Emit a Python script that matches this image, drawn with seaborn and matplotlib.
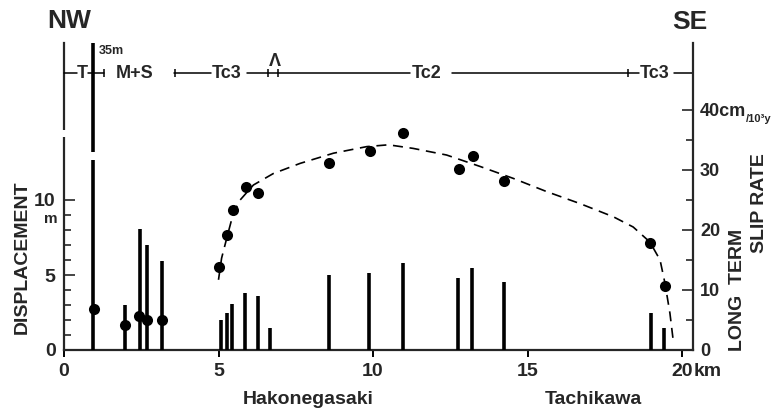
import matplotlib
matplotlib.use("Agg")
import matplotlib.pyplot as plt
import seaborn as sns
import pandas as pd

# ---------------- data ----------------
bar_km = [0.95, 1.97, 2.46, 2.70, 3.16, 5.07, 5.26, 5.43, 5.86, 6.27, 6.67,
          8.59, 9.86, 10.96, 12.74, 13.20, 14.24, 19.00, 19.42]
bar_m = [35, 3.0, 8.1, 7.0, 5.95, 2.0, 2.5, 3.1, 3.8, 3.6, 1.45,
         5.0, 5.15, 5.78, 4.82, 5.44, 4.51, 2.49, 1.49]

slip_km = [0.97, 1.97, 2.44, 2.70, 3.16, 5.00, 5.29, 5.48, 5.88, 6.27,
           8.59, 9.90, 10.96, 12.78, 13.24, 14.24, 18.97, 19.45]
slip_rate = [6.9, 4.2, 5.6, 5.0, 5.0, 13.9, 19.1, 23.3, 27.1, 26.1,
             31.2, 33.2, 36.2, 30.2, 32.3, 28.2, 17.9, 10.7]

curve_km = [5.0, 5.10, 5.29, 5.48, 5.70, 6.13, 6.77, 7.64, 8.72, 9.80, 10.5,
            11.3, 12.38, 13.46, 14.54, 15.62, 16.70, 17.78, 18.42, 18.96,
            19.29, 19.45, 19.61, 19.72]
curve_rate = [11.7, 15.3, 19.1, 22.8, 25.0, 27.5, 29.4, 31.1, 32.8, 33.9, 34.2,
              33.6, 32.5, 30.6, 28.6, 26.4, 24.4, 22.2, 20.5, 18.0,
              15.0, 11.1, 6.1, 1.4]

x_ticks = [0, 5, 10, 15, 20]
x_ticklabels = ["0", "5", "10", "15", "20"]
left_ticks = [0, 5, 10]
left_ticklabels = ["0", "5", "10"]
right_ticks = [0, 10, 20, 30, 40]
right_ticklabels = ["0", "10", "20", "30", "40cm"]

geo_labels = ["T", "M+S", "Tc3", "Tc2", "Tc3"]
geo_label_km = [0.6, 2.3, 5.25, 11.73, 19.1]
geo_segments = [(0, 0.42), (0.78, 1.30), (3.55, 4.75), (5.92, 11.2),
                (12.55, 18.6), (19.75, 20.36)]
geo_marks_km = [1.30, 3.59, 6.6, 6.93, 18.25]

bars = pd.DataFrame({"km": bar_km, "m": bar_m})
slips = pd.DataFrame({"km": slip_km, "rate": slip_rate})
curve = pd.DataFrame({"km": curve_km, "rate": curve_rate})

# ---------------- style ----------------
sns.set_theme(style="ticks")
plt.rcParams["font.family"] = ["Liberation Sans", "DejaVu Sans"]
plt.rcParams["font.weight"] = "bold"

W, H = 775, 409
fig = plt.figure(figsize=(W / 100, H / 100), dpi=100)
fig.patch.set_facecolor("white")


def ftext(px, py, s, **kw):
    kw.setdefault("fontweight", "bold")
    fig.text(px / W, 1 - py / H, s, **kw)


ax = fig.add_axes([64 / W, 59 / H, 629 / W, 307 / H])
ax.set_facecolor("white")
ax.set_xlim(0, 629 / 30.9)
ax.set_ylim(0, 307 / 15)

ax2 = ax.twinx()
ax2.set_ylim(0, 307 / 6)

# bars (displacement)
ax.vlines(bars["km"], 0, bars["m"], color="black", lw=2.6, zorder=3)

# dashed curve and dots (slip rate)
sns.lineplot(data=curve, x="km", y="rate", ax=ax2, sort=False, estimator=None,
             color="black", lw=1.2, linestyle=(0, (6, 4)), zorder=3)
sns.scatterplot(data=slips, x="km", y="rate", ax=ax2, color="black", s=64,
                edgecolor="black", linewidth=0, zorder=4, clip_on=False)

# breaks in left spine and the 35 m bar
ax.plot([0, 0], [(350 - 137) / 15, (350 - 130) / 15], color="white", lw=4,
        clip_on=False, zorder=6, solid_capstyle="butt")
ax.plot([bar_km[0], bar_km[0]], [(350 - 160) / 15, (350 - 152) / 15],
        color="white", lw=4, zorder=6, solid_capstyle="butt")

# geology strip
y_geo = (350 - 73) / 15
for a, b in geo_segments:
    ax.plot([a, b], [y_geo, y_geo], color="black", lw=1.1, clip_on=False, zorder=3)
ax.vlines(geo_marks_km, y_geo - 0.25, y_geo + 0.25, color="black", lw=1.1, zorder=3)
for lab, xk in zip(geo_labels, geo_label_km):
    ax.text(xk, y_geo, lab, ha="center", va="center", fontsize=13,
            fontweight="bold", zorder=5)
ax.text(6.82, (350 - 61) / 15, "Λ", ha="center", va="center", fontsize=13,
        fontweight="bold")

# axes styling
for a_ in (ax, ax2):
    a_.set_xlabel("")
    a_.set_ylabel("")
    a_.spines["top"].set_visible(False)
ax.spines["right"].set_visible(False)
for s in ("left", "bottom"):
    ax2.spines[s].set_visible(False)
for s in ("left", "bottom"):
    ax.spines[s].set_linewidth(1.6)
ax2.spines["right"].set_linewidth(1.6)

ax.set_xticks(x_ticks)
ax.set_xticklabels(x_ticklabels)
ax.tick_params(axis="x", direction="out", length=5, width=1.4, pad=4,
               labelsize=14, color="black")
ax.set_yticks(left_ticks)
ax.set_yticklabels(left_ticklabels)
ax.set_yticks(list(range(0, 11)), minor=True)
ax.tick_params(axis="y", which="major", direction="in", length=8, width=1.2,
               pad=6, labelsize=14)
ax.tick_params(axis="y", which="minor", direction="in", length=5, width=1.2)

ax2.set_yticks(right_ticks)
ax2.set_yticklabels(right_ticklabels)
ax2.set_yticks([5, 15, 25, 35], minor=True)
ax2.tick_params(axis="y", which="major", direction="in", length=8, width=1.2,
                pad=5, labelsize=13)
ax2.tick_params(axis="y", which="minor", direction="in", length=5, width=1.2)
for lab in ax.get_xticklabels() + ax.get_yticklabels() + ax2.get_yticklabels():
    lab.set_fontweight("bold")

# free text
ftext(69, 21, "NW", ha="center", va="center", fontsize=19)
ftext(690, 22, "SE", ha="center", va="center", fontsize=19)
ax.text(1.12, 20.3, "35m", ha="left", va="top", fontsize=9, fontweight="bold")
ftext(22, 257, "DISPLACEMENT", ha="center", va="center", rotation=90, fontsize=14)
ftext(51, 219, "m", ha="center", va="center", fontsize=11)
ftext(738, 290, "LONG  TERM", ha="center", va="center", rotation=90, fontsize=14)
ftext(760, 203, "SLIP RATE", ha="center", va="center", rotation=90, fontsize=14)
ftext(746, 119, "/10³y", ha="left", va="center", fontsize=8)
ftext(694, 371, "km", ha="left", va="center", fontsize=14)
ftext(308, 399, "Hakonegasaki", ha="center", va="center", fontsize=14)
ftext(593, 399, "Tachikawa", ha="center", va="center", fontsize=14)

fig.savefig("out.png", dpi=100)
